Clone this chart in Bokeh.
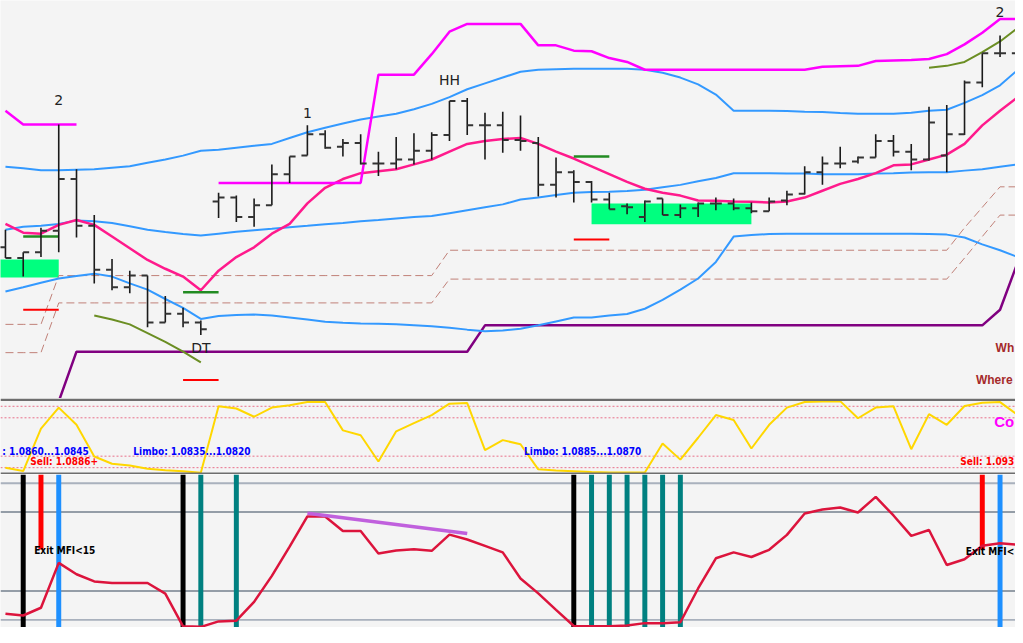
import numpy as np
from bokeh.plotting import figure
from bokeh.layouts import column
from bokeh.models import Range1d, Span
from bokeh.core.properties import value
from bokeh.embed import file_html
from bokeh.resources import INLINE

nan = float("nan")

# ---------------- data ----------------
bars = list(range(58))

opens = [1.08735, 1.08680, 1.08710, 1.08820, 1.09085, 1.08845, 1.08620, 1.08530, 1.08590, 1.08350,
         1.08395, 1.08350, 1.08970, 1.08990, 1.08890, 1.08950, 1.09110, 1.09205, 1.09315, 1.09250,
         1.09270, 1.09165, 1.09165, 1.09185, 1.09230, 1.09310, 1.09485, 1.09360, 1.09360, 1.09285,
         1.09270, 1.09055, 1.09120, 1.09070, 1.08980, 1.08945, 1.08890, 1.08985, 1.08900, 1.08935,
         1.08960, 1.08960, 1.08935, 1.08920, 1.08975, 1.09010, 1.09120, 1.09165, 1.09175, 1.09195,
         1.09280, 1.09225, 1.09185, 1.09205, 1.09315, 1.09580, 1.09730, 1.09730]
highs = [1.08825, 1.08710, 1.08835, 1.09365, 1.09135, 1.08900, 1.08675, 1.08615, 1.08590, 1.08485,
         1.08425, 1.08360, 1.09015, 1.09000, 1.08985, 1.09160, 1.09200, 1.09360, 1.09335, 1.09290,
         1.09315, 1.09225, 1.09300, 1.09320, 1.09325, 1.09485, 1.09500, 1.09425, 1.09430, 1.09410,
         1.09300, 1.09195, 1.09130, 1.09075, 1.09015, 1.08960, 1.08975, 1.08985, 1.08955, 1.08965,
         1.08990, 1.08985, 1.08965, 1.08990, 1.09025, 1.09150, 1.09200, 1.09250, 1.09200, 1.09315,
         1.09310, 1.09265, 1.09455, 1.09465, 1.09590, 1.09730, 1.09820, 1.09775]
lows = [1.08680, 1.08585, 1.08685, 1.08710, 1.08785, 1.08550, 1.08515, 1.08500, 1.08325, 1.08350,
        1.08325, 1.08285, 1.08885, 1.08865, 1.08840, 1.08950, 1.09065, 1.09205, 1.09240, 1.09200,
        1.09160, 1.09100, 1.09135, 1.09160, 1.09185, 1.09280, 1.09310, 1.09185, 1.09220, 1.09230,
        1.08995, 1.08990, 1.08965, 1.08965, 1.08930, 1.08905, 1.08865, 1.08900, 1.08885, 1.08890,
        1.08925, 1.08925, 1.08910, 1.08920, 1.08950, 1.09005, 1.09055, 1.09140, 1.09165, 1.09195,
        1.09200, 1.09130, 1.09180, 1.09120, 1.09310, 1.09555, 1.09710, 1.09700]
closes = [1.08680, 1.08710, 1.08820, 1.09085, 1.08845, 1.08620, 1.08530, 1.08590, 1.08350, 1.08395,
          1.08350, 1.08315, 1.08990, 1.08890, 1.08950, 1.09110, 1.09200, 1.09315, 1.09245, 1.09270,
          1.09165, 1.09165, 1.09185, 1.09230, 1.09310, 1.09485, 1.09360, 1.09360, 1.09285, 1.09280,
          1.09055, 1.09120, 1.09070, 1.08980, 1.08930, 1.08940, 1.08970, 1.08900, 1.08935, 1.08960,
          1.08960, 1.08935, 1.08920, 1.08970, 1.09005, 1.09120, 1.09165, 1.09165, 1.09195, 1.09280,
          1.09225, 1.09185, 1.09375, 1.09315, 1.09580, 1.09730, 1.09730, 1.09730]

bb_upper = [1.09148, 1.09140, 1.09130, 1.09130, 1.09133, 1.09135, 1.09143, 1.09150, 1.09168, 1.09185,
            1.09205, 1.09230, 1.09235, 1.09245, 1.09255, 1.09265, 1.09295, 1.09325, 1.09348, 1.09370,
            1.09390, 1.09405, 1.09420, 1.09443, 1.09470, 1.09505, 1.09545, 1.09575, 1.09605, 1.09635,
            1.09645, 1.09648, 1.09650, 1.09650, 1.09650, 1.09650, 1.09645, 1.09630, 1.09605, 1.09570,
            1.09518, 1.09435, 1.09435, 1.09435, 1.09433, 1.09430, 1.09428, 1.09423, 1.09420, 1.09420,
            1.09420, 1.09425, 1.09435, 1.09440, 1.09475, 1.09515, 1.09565, 1.09645]
bb_middle = [1.08825, 1.08840, 1.08845, 1.08855, 1.08873, 1.08868, 1.08860, 1.08843, 1.08825, 1.08813,
             1.08803, 1.08795, 1.08805, 1.08815, 1.08823, 1.08830, 1.08838, 1.08845, 1.08853, 1.08860,
             1.08868, 1.08875, 1.08883, 1.08890, 1.08895, 1.08910, 1.08925, 1.08940, 1.08955, 1.08980,
             1.08990, 1.09003, 1.09015, 1.09018, 1.09020, 1.09023, 1.09030, 1.09043, 1.09055, 1.09073,
             1.09090, 1.09115, 1.09115, 1.09115, 1.09113, 1.09113, 1.09110, 1.09110, 1.09110, 1.09113,
             1.09115, 1.09118, 1.09120, 1.09120, 1.09128, 1.09135, 1.09148, 1.09160]
bb_lower = [1.08508, 1.08530, 1.08553, 1.08575, 1.08588, 1.08600, 1.08585, 1.08550, 1.08518, 1.08470,
            1.08425, 1.08368, 1.08383, 1.08388, 1.08390, 1.08385, 1.08375, 1.08365, 1.08353, 1.08348,
            1.08345, 1.08343, 1.08340, 1.08335, 1.08330, 1.08323, 1.08313, 1.08305, 1.08308, 1.08318,
            1.08335, 1.08355, 1.08375, 1.08375, 1.08385, 1.08393, 1.08420, 1.08465, 1.08518, 1.08575,
            1.08660, 1.08790, 1.08798, 1.08803, 1.08805, 1.08805, 1.08805, 1.08805, 1.08805, 1.08805,
            1.08805, 1.08805, 1.08803, 1.08800, 1.08785, 1.08750, 1.08720, 1.08685]
ma_pink = [1.08855, 1.08810, 1.08805, 1.08850, 1.08875, 1.08850, 1.08790, 1.08730, 1.08670, 1.08625,
           1.08585, 1.08515, 1.08615, 1.08685, 1.08735, 1.08805, 1.08855, 1.08960, 1.09040, 1.09085,
           1.09115, 1.09125, 1.09135, 1.09160, 1.09185, 1.09225, 1.09265, 1.09280, 1.09290, 1.09295,
           1.09265, 1.09225, 1.09190, 1.09150, 1.09110, 1.09070, 1.09035, 1.09015, 1.09000, 1.08975,
           1.08973, 1.08970, 1.08968, 1.08965, 1.08970, 1.08990, 1.09025, 1.09060, 1.09085, 1.09115,
           1.09155, 1.09160, 1.09185, 1.09210, 1.09265, 1.09360, 1.09435, 1.09505]
high_channel = [1.09435, 1.09365, 1.09365, 1.09365, 1.09365, nan, nan, nan, nan, nan,
                nan, nan, 1.09065, 1.09065, 1.09065, 1.09065, 1.09065, 1.09065, 1.09065, 1.09065,
                1.09065, 1.09620, 1.09620, 1.09620, 1.09725, 1.09840, 1.09880, 1.09880, 1.09880, 1.09880,
                1.09770, 1.09770, 1.09743, 1.09740, 1.09705, 1.09685, 1.09645, 1.09645, 1.09645, 1.09645,
                1.09645, 1.09645, 1.09645, 1.09645, 1.09645, 1.09645, 1.09660, 1.09663, 1.09665, 1.09690,
                1.09693, 1.09695, 1.09700, 1.09725, 1.09775, 1.09835, 1.09905, 1.09905]
dash_upper = [1.08340, 1.08340, 1.08340] + [1.08590] * 22 + [1.08720] * 29 + [1.08835, 1.08940, 1.09045, 1.09045]
dash_lower = [1.08195, 1.08195, 1.08195] + [1.08450] * 22 + [1.08572] * 29 + [1.08680, 1.08790, 1.08900, 1.08900]
purple_stop = [nan, nan, nan, 1.07945] + [1.08200] * 23 + [1.08335] * 29 + [1.08415, 1.08660]
olive_x_left = [5, 6, 7, 8, 9, 10, 11]
olive_left = [1.08385, 1.08365, 1.08340, 1.08295, 1.08250, 1.08200, 1.08145]
olive_x_right = [52, 53, 54, 55, 56, 57]
olive_right = [1.09655, 1.09665, 1.09685, 1.09735, 1.09790, 1.09860]

level_x0 = [1, 10, 32]
level_x1 = [3, 12, 34]
green_levels = [1.08790, 1.08505, 1.09200]
red_levels = [1.08415, 1.08055, 1.08775]

box_left = [-1, 33]
box_right = [3, 42]
box_top = [1.08672, 1.08960]
box_bottom = [1.08580, 1.08853]

wave_labels = ["2", "DT", "1", "HH", "2"]
wave_x = [3, 11, 17, 25, 56]
wave_y = [1.09490, 1.08220, 1.09423, 1.09592, 1.09940]

note_labels = ["Wh", "Where"]
note_x = [56.8, 54.64]
note_align = ["right", "left"]
note_y = [1.08220, 1.08053]

osc = [10.0, 5.6, 60.8, 88.3, 65.9, 24.6, 15.1, 12.9, 8.7, 6.6,
       5.3, 3.3, 90.0, 87.1, 76.4, 88.3, 91.3, 95.5, 95.5, 58.6,
       52.3, 18.0, 57.4, 68.0, 78.6, 93.4, 94.2, 32.9, 45.9, 40.5,
       7.8, 6.2, 5.3, 4.3, 3.7, 3.7, 3.7, 41.4, 20.5, 49.0,
       78.6, 72.2, 35.0, 65.9, 88.3, 95.5, 96.3, 96.7, 74.4, 88.3,
       90.0, 34.1, 79.8, 65.9, 90.4, 94.7, 95.5, 78.6]
osc_levels = [90, 75, 25, 10]

limbo_labels = [": 1.0860...1.0845", "Limbo: 1.0835...1.0820", "Limbo: 1.0885...1.0870"]
limbo_x = [-0.18, 7.2, 29.2]
limbo_align = ["left", "left", "left"]
limbo_y = [31.6, 31.6, 31.6]
sell_labels = ["Sell: 1.0886+", "Sell: 1.093"]
sell_x = [1.40, 56.8]
sell_align = ["left", "right"]
sell_y = [17.6, 17.6]
cond_label = "Co"
cond_x = 56.8
cond_y = 69.7

mfi = [9.2, 8.0, 13.4, 44.6, 36.7, 31.7, 30.6, 30.6, 30.6, 23.2,
       0.5, 0.1, 3.9, 4.4, 17.5, 35.6, 55.9, 76.9, 76.9, 66.8,
       66.8, 51.2, 53.2, 54.1, 53.0, 64.3, 60.9, 56.4, 51.9, 33.8,
       23.4, 11.9, 0.7, 0.5, 0.5, 1.0, 2.7, 2.7, 3.3, 26.8,
       47.8, 51.9, 48.7, 53.7, 64.1, 79.0, 81.7, 83.1, 79.7, 90.5,
       77.6, 63.4, 67.5, 43.1, 47.1, 56.6, 58.2, 57.3]
mfi_outer_levels = [100, 5]
mfi_inner_levels = [80, 25]
signal_x = [1, 3, 10, 11, 13, 32, 33, 34, 35, 36, 37, 38, 56]
signal_colors = ["#000000", "#1e90ff", "#000000", "#008080", "#008080", "#000000",
                 "#008080", "#008080", "#008080", "#008080", "#008080", "#008080", "#1e90ff"]
exit_x = [2, 55]
exit_level = [54.0, 54.0]
divergence_x = [17, 26]
divergence_y = [79.2, 65.0]
exit_labels = ["Exit MFI<15", "Exit MFI<"]
exit_label_x = [1.62, 56.8]
exit_label_align = ["left", "right"]
exit_label_y = [52.9, 52.5]

# ---------------- figures ----------------
W = 1015
BG = "#f4f4f4"
xr = Range1d(-0.279, 56.87)
NARROW = "DejaVu Sans Condensed"


def make_fig(h, y0, y1):
    f = figure(width=W, height=h, x_range=xr, y_range=Range1d(y0, y1),
               x_axis_type=None, y_axis_type=None, output_backend="svg",
               toolbar_location=None, min_border=0, outline_line_color=None,
               background_fill_color=BG, border_fill_color=BG)
    f.xgrid.visible = False
    f.ygrid.visible = False
    return f


# price panel
p = make_fig(398, 1.0796, 1.1000)
p.quad(left=box_left, right=box_right, top=box_top, bottom=box_bottom,
       fill_color="#00ff7f", line_color=None)
p.line(bars, dash_upper, color="#c08078", line_width=1, line_dash="8 4")
p.line(bars, dash_lower, color="#c08078", line_width=1, line_dash="8 4")
p.line(bars, purple_stop, color="#800080", line_width=2.5)
p.line(bars, bb_upper, color="#3399ff", line_width=2)
p.line(bars, bb_middle, color="#3399ff", line_width=2)
p.line(bars, bb_lower, color="#3399ff", line_width=2)
p.line(bars, ma_pink, color="#ff1a8c", line_width=2.5)
p.line(bars, high_channel, color="#ff00ff", line_width=2.5)
p.line(olive_x_left, olive_left, color="#6b8e23", line_width=2)
p.line(olive_x_right, olive_right, color="#6b8e23", line_width=2)
p.segment(x0=level_x0, x1=level_x1, y0=green_levels, y1=green_levels,
          color="#228b22", line_width=2.5)
p.segment(x0=level_x0, x1=level_x1, y0=red_levels, y1=red_levels,
          color="#ff0000", line_width=2)

bx = np.array(bars, dtype=float)
p.segment(x0=bx, x1=bx, y0=lows, y1=highs, color="#1a1a1a", line_width=1.6)
p.segment(x0=bx - 0.335, x1=bx, y0=opens, y1=opens, color="#333333", line_width=2)
p.segment(x0=bx, x1=bx + 0.335, y0=closes, y1=closes, color="#333333", line_width=2)

p.text(x=wave_x, y=wave_y, text=wave_labels, text_align="center", text_baseline="middle",
       text_font=value("DejaVu Sans"), text_font_size="14px", text_color="#222222")
for lbl, lx, ly, la in zip(note_labels, note_x, note_y, note_align):
    p.text(x=[lx], y=[ly], text=[lbl], text_align=la, text_baseline="middle",
           text_font=value("Liberation Sans"), text_font_style="bold", text_font_size="12px",
           text_color="#a52a2a")

# oscillator panel
o = make_fig(76, 1.11, 100.16)
for lv in osc_levels:
    o.add_layout(Span(location=lv, dimension="width", line_color="#e8708a",
                      line_width=1, line_dash="2 2", level="underlay"))
o.line(bars, osc, color="#ffd700", line_width=2)
for lbl, lx, ly, la in zip(limbo_labels, limbo_x, limbo_y, limbo_align):
    o.text(x=[lx], y=[ly], text=[lbl], text_align=la, text_baseline="middle",
           text_font=value(NARROW), text_font_style="bold", text_font_size="10px",
           text_color="#0000ff")
for lbl, lx, ly, la in zip(sell_labels, sell_x, sell_y, sell_align):
    o.text(x=[lx], y=[ly], text=[lbl], text_align=la, text_baseline="middle",
           text_font=value(NARROW), text_font_style="bold", text_font_size="10px",
           text_color="#ff0000")
o.text(x=[cond_x], y=[cond_y], text=[cond_label], text_align="right", text_baseline="middle",
       text_font=value("Liberation Sans"), text_font_style="bold", text_font_size="15px",
       text_color="#ff00ff")
o.add_layout(Span(location=98.5, dimension="width", line_color="#6e6e6e", line_width=2.5))
o.add_layout(Span(location=2.0, dimension="width", line_color="#6e6e6e", line_width=2.5))

# MFI panel
m = make_fig(153, -0.34, 106.1)
for lv in mfi_outer_levels:
    m.add_layout(Span(location=lv, dimension="width", line_color="#a9b1bd",
                      line_width=1.8, level="underlay"))
for lv in mfi_inner_levels:
    m.add_layout(Span(location=lv, dimension="width", line_color="#74808e",
                      line_width=1.5, level="underlay"))
m.vbar(x=signal_x, width=0.28, bottom=-5, top=115, fill_color=signal_colors,
       line_color=None)
m.vbar(x=exit_x, width=0.28, bottom=exit_level, top=115, fill_color="#ff0000",
       line_color=None)
m.line(bars, mfi, color="#dc143c", line_width=2.5)
m.line(divergence_x, divergence_y, color="#c060dd", line_width=3.5)
for lbl, lx, ly, la in zip(exit_labels, exit_label_x, exit_label_y, exit_label_align):
    m.text(x=[lx], y=[ly], text=[lbl], text_align=la,
           text_baseline="middle", text_font=value(NARROW), text_font_style="bold",
           text_font_size="10px", text_color="#000000")

layout = column(p, o, m, spacing=0)

open("out.html", "w").write(file_html(layout, INLINE))
